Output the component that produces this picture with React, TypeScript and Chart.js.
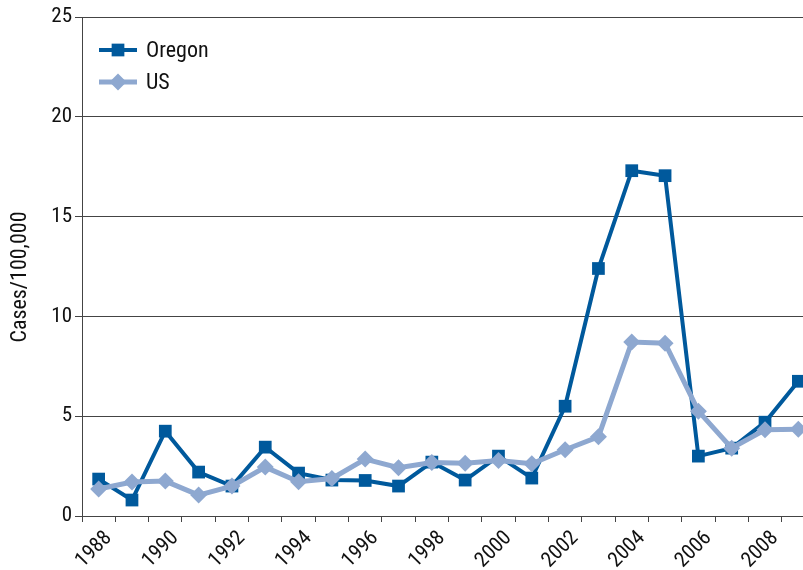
import React, { useEffect, useRef } from "react";
import { Chart, registerables } from "chart.js";

Chart.register(...registerables);

const years = [
  "1988", "1989", "1990", "1991", "1992", "1993", "1994", "1995", "1996", "1997", "1998",
  "1999", "2000", "2001", "2002", "2003", "2004", "2005", "2006", "2007", "2008", "2009",
];
const oregon = [1.85, 0.8, 4.25, 2.2, 1.5, 3.45, 2.15, 1.8, 1.78, 1.5, 2.7, 1.8, 3.0, 1.9, 5.5, 12.4, 17.3, 17.05, 3.0, 3.4, 4.7, 6.75];
const us = [1.35, 1.7, 1.75, 1.05, 1.5, 2.45, 1.72, 1.88, 2.85, 2.42, 2.68, 2.64, 2.78, 2.62, 3.32, 3.97, 8.72, 8.66, 5.25, 3.4, 4.32, 4.35];
const yTicks = [0, 5, 10, 15, 20, 25];
const yTitle = "Cases/100,000";

const FONT = "Roboto, 'Open Sans', sans-serif";
const STRETCH = "condensed";
const DARK = "#00599c";
const LIGHT = "#8ea8d0";

const legendPlugin = {
  id: "insideLegend",
  afterDraw(chart: any) {
    const ctx = chart.ctx;
    const items = [
      { label: "Oregon", color: DARK, style: "rect", y: 50, r: 9, lw: 4 },
      { label: "US", color: LIGHT, style: "rectRot", y: 82, r: 8.5, lw: 5 },
    ];
    ctx.save();
    items.forEach((it) => {
      ctx.strokeStyle = it.color;
      ctx.lineWidth = it.lw;
      ctx.beginPath();
      ctx.moveTo(99, it.y);
      ctx.lineTo(137, it.y);
      ctx.stroke();
      ctx.fillStyle = it.color;
      ctx.beginPath();
      if (it.style === "rect") {
        const s = it.r * Math.SQRT1_2;
        ctx.rect(118 - s, it.y - s, 2 * s, 2 * s);
      } else {
        ctx.moveTo(118 - it.r, it.y);
        ctx.lineTo(118, it.y - it.r);
        ctx.lineTo(118 + it.r, it.y);
        ctx.lineTo(118, it.y + it.r);
        ctx.closePath();
      }
      ctx.fill();
      ctx.fillStyle = "#111";
      ctx.font = `${STRETCH} 22px ${FONT}`;
      ctx.textBaseline = "middle";
      ctx.textAlign = "left";
      ctx.fillText(it.label, 146, it.y + 1);
    });
    // y-axis title
    ctx.translate(20, 277);
    ctx.rotate(-Math.PI / 2);
    ctx.font = `${STRETCH} 22px ${FONT}`;
    ctx.textAlign = "center";
    ctx.textBaseline = "middle";
    ctx.fillStyle = "#111";
    ctx.fillText(yTitle, 0, 0);
    ctx.restore();
  },
};

export default function App() {
  const ref = useRef<HTMLCanvasElement>(null);
  useEffect(() => {
    if (!ref.current) return;
    const chart = new Chart(ref.current, {
      type: "line",
      data: {
        labels: years,
        datasets: [
          {
            label: "Oregon",
            data: oregon,
            borderColor: DARK,
            backgroundColor: DARK,
            borderWidth: 4,
            pointStyle: "rect",
            pointRadius: 9,
            pointBorderWidth: 0,
            tension: 0,
            order: 1,
          },
          {
            label: "US",
            data: us,
            borderColor: LIGHT,
            backgroundColor: LIGHT,
            borderWidth: 5,
            pointStyle: "rectRot",
            pointRadius: 8.5,
            pointBorderWidth: 0,
            tension: 0,
            order: 0,
          },
        ],
      },
      options: {
        animation: false,
        responsive: false,
        maintainAspectRatio: false,
        layout: { padding: { top: 17, left: 0, right: 0, bottom: 0 } },
        plugins: { legend: { display: false }, tooltip: { enabled: false } },
        scales: {
          x: {
            type: "category",
            offset: true,
            grid: { offset: true, drawOnChartArea: false, drawTicks: true, tickLength: 6, color: "#444", lineWidth: 1 },
            border: { color: "#444", width: 1 },
            ticks: {
              autoSkip: false,
              maxRotation: 45,
              minRotation: 45,
              padding: 4,
              labelOffset: 10,
              color: "#111",
              font: { family: FONT, size: 21, weight: STRETCH },
              callback: (_v: any, i: number) => (i % 2 === 0 ? years[i] : ""),
            },
            afterFit: (s: any) => {
              s.height = 54;
            },
          },
          y: {
            min: 0,
            max: 25,
            afterBuildTicks: (s: any) => {
              s.ticks = yTicks.map((v) => ({ value: v }));
            },
            grid: { color: "#444", lineWidth: 1, tickLength: 7 },
            border: { color: "#444", width: 1 },
            ticks: { color: "#111", padding: 3, font: { family: FONT, size: 21, weight: STRETCH } },
            afterFit: (s: any) => {
              s.width = 82;
            },
          },
        },
      },
      plugins: [legendPlugin],
    });
    return () => chart.destroy();
  }, []);
  return (
    <div style={{ position: "fixed", left: 0, top: 0, width: 803, height: 570, overflow: "hidden", background: "#fff" }}>
      <canvas ref={ref} width={824} height={570} style={{ display: "block" }} />
    </div>
  );
}
